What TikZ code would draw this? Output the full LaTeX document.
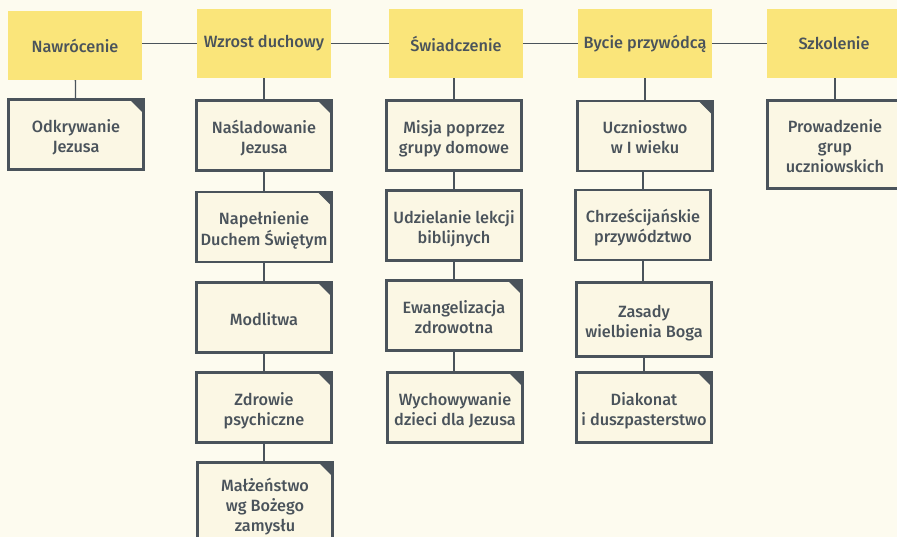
\documentclass[tikz,border=0pt]{standalone}
\usepackage{fontspec}
\setmainfont{Fira Sans}[UprightFont={* Medium}]
\definecolor{bgc}{HTML}{FDFBEF}
\definecolor{hdrc}{HTML}{FAE57A}
\definecolor{boxc}{HTML}{FBF7E4}
\definecolor{brd}{HTML}{4A535B}
\newcommand\bxt[2][-4pt]{\raisebox{#1}[\height][\depth]{\begin{tabular}{@{}c@{}}#2\end{tabular}}}
\begin{document}
\begin{tikzpicture}[x=1pt,y=-1pt,
  hdr/.style={fill=hdrc, minimum width=134pt, minimum height=69pt, inner sep=0pt, align=center, text=brd, font=\fontsize{16.3}{20}\selectfont},
  child/.style={draw=brd, line width=2.6pt, fill=boxc, minimum width=135pt, minimum height=70pt, inner sep=0pt, text=brd, font=\fontsize{16.3}{20}\selectfont},
  corner/.style={path picture={\fill[brd] ([xshift=-14pt]path picture bounding box.north east) -- (path picture bounding box.north east) -- ([yshift=-14pt]path picture bounding box.north east) -- cycle;}},
  conn/.style={draw=brd, line width=1.3pt}]
\useasboundingbox (0,0) rectangle (897,537);
\fill[bgc] (0,0) rectangle (897,537);
% headers
\node[hdr] (h1) at (75,45.5) {Nawrócenie};
\node[hdr] (h2) at (264,43.5) {Wzrost duchowy};
\node[hdr] (h3) at (456,43.5) {Świadczenie};
\node[hdr] (h4) at (645,43.5) {Bycie przywódcą};
\node[hdr] (h5) at (834,43.5) {Szkolenie};
% children
\node[child,corner] (a1) at (76,134.5) {\bxt{Odkrywanie\\Jezusa}};
\node[child,corner] (b1) at (264,135.5) {\bxt{Naśladowanie\\Jezusa}};
\node[child,corner] (b2) at (264,227) {\bxt{Napełnienie\\Duchem Świętym}};
\node[child,corner] (b3) at (264,317.5) {\bxt{Modlitwa}};
\node[child,corner] (b4) at (264,407.5) {\bxt{Zdrowie\\psychiczne}};
\node[child,corner,minimum height=89pt] (b5) at (265,507) {\bxt[-0.5pt]{Małżeństwo\\wg Bożego\\zamysłu}};
\node[child] (c1) at (454,135.5) {\bxt{Misja poprzez\\grupy domowe}};
\node[child] (c2) at (454,225.5) {\bxt{Udzielanie lekcji\\biblijnych}};
\node[child,corner] (c3) at (454,315.5) {\bxt{Ewangelizacja\\zdrowotna}};
\node[child,corner] (c4) at (455,407.5) {\bxt{Wychowywanie\\dzieci dla Jezusa}};
\node[child,corner] (d1) at (645,136) {\bxt{Uczniostwo\\w I wieku}};
\node[child] (d2) at (643,225) {\bxt{Chrześcijańskie\\przywództwo}};
\node[child,minimum height=74pt] (d3) at (644,319.5) {\bxt{Zasady\\wielbienia Boga}};
\node[child,corner] (d4) at (644,407.5) {\bxt{Diakonat\\i duszpasterstwo}};
\node[child,minimum height=88pt] (e1) at (835,144.5) {\bxt{Prowadzenie\\grup\\uczniowskich}};
% connectors
\draw[conn] (h1.east |- h2.west) -- (h2.west);
\draw[conn] (h2) -- (h3);
\draw[conn] (h3) -- (h4);
\draw[conn] (h4) -- (h5);
\draw[conn] (h1) -- (a1);
\draw[conn] (h2) -- (b1);
\draw[conn] (b1) -- (b2);
\draw[conn] (b2) -- (b3);
\draw[conn] (b3) -- (b4);
\draw[conn] (b4) -- (b4 |- b5.north);
\draw[conn] (h3.south -| c1) -- (c1);
\draw[conn] (c1) -- (c2);
\draw[conn] (c2) -- (c3);
\draw[conn] (c3.south) -- (c3.south |- c4.north);
\draw[conn] (h4) -- (d1);
\draw[conn] (d1.south -| d2) -- (d2);
\draw[conn] (d2) -- (d2 |- d3.north);
\draw[conn] (d3) -- (d4);
\draw[conn] (h5.south -| e1) -- (e1);
\end{tikzpicture}
\end{document}
